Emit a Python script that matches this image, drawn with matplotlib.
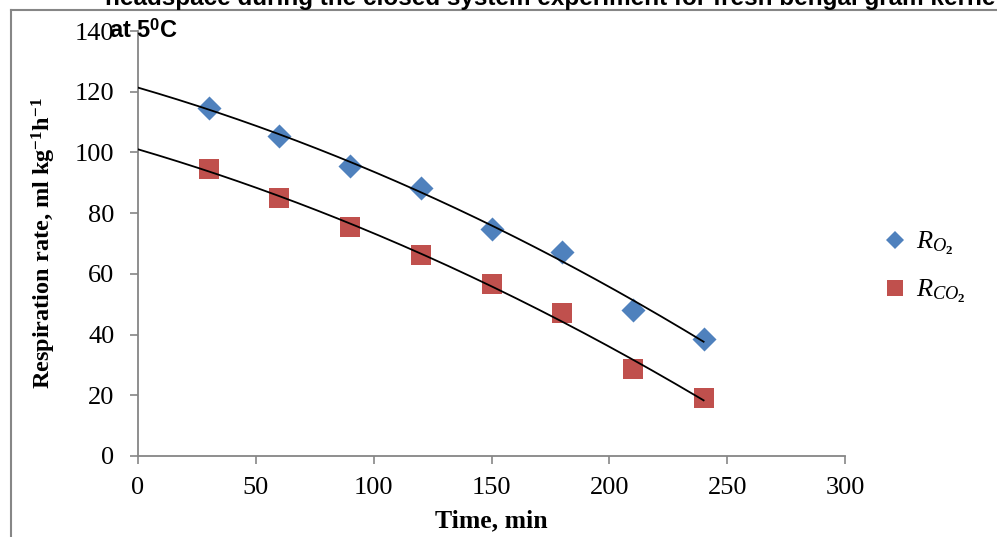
import numpy as np
import matplotlib
matplotlib.use("Agg")
import matplotlib.pyplot as plt
from matplotlib.lines import Line2D

time_min = [30, 60, 90, 120, 150, 180, 210, 240]
r_o2 = [114.8, 105.3, 95.6, 88.3, 74.9, 67.3, 48.1, 38.6]
r_co2 = [94.5, 85.1, 75.5, 66.2, 56.7, 47.1, 28.6, 19.1]
xticks = [0, 50, 100, 150, 200, 250, 300]
yticks = [0, 20, 40, 60, 80, 100, 120, 140]

blue = "#4F81BD"
red = "#C0504D"
gray = "#868686"

plt.rcParams["mathtext.fontset"] = "custom"
plt.rcParams["mathtext.rm"] = "Liberation Serif:bold"
plt.rcParams["mathtext.bf"] = "Liberation Serif:bold"
plt.rcParams["mathtext.sf"] = "Liberation Sans:bold"
plt.rcParams["mathtext.it"] = "Liberation Serif:italic"

fig = plt.figure(figsize=(9.97, 5.37), dpi=100)
ax = fig.add_axes([138/997, 1-456/537, (845-138)/997, (456-31)/537])

# frame lines of the embedded picture
fig.add_artist(Line2D([11/997, 11/997], [0, 1-9.5/537], transform=fig.transFigure, color=gray, lw=1.5))
fig.add_artist(Line2D([11/997, 1], [1-9.5/537, 1-9.5/537], transform=fig.transFigure, color=gray, lw=1.5))

# trend lines (2nd-order polynomial fits)
xx = np.linspace(0, 240, 200)
p1 = np.polyfit(time_min, r_o2, 2)
p2 = np.polyfit(time_min, r_co2, 2)
ax.plot(xx, np.polyval(p1, xx), color="black", lw=1.3, zorder=3)
ax.plot(xx, np.polyval(p2, xx), color="black", lw=1.3, zorder=3)

ax.scatter(time_min, r_o2, marker="D", s=150, color=blue, zorder=2, linewidths=0)
ax.scatter(time_min, r_co2, marker="s", s=190, color=red, zorder=2, linewidths=0)

ax.set_xlim(0, 300)
ax.set_ylim(0, 140)
ax.set_xticks(xticks)
ax.set_yticks(yticks)
for s in ["top", "right"]:
    ax.spines[s].set_visible(False)
for s in ["left", "bottom"]:
    ax.spines[s].set_color(gray)
    ax.spines[s].set_linewidth(1.3)
ax.tick_params(direction="out", length=6, width=1.2, color=gray, labelsize=19)
ax.tick_params(axis="y", pad=11)
ax.tick_params(axis="x", pad=9)
for lab in ax.get_xticklabels() + ax.get_yticklabels():
    lab.set_fontfamily("Liberation Serif")

ax.set_xlabel("Time, min", fontfamily="Liberation Serif", fontweight="bold", fontsize=18.5, va="top")
ax.xaxis.set_label_coords(0.5, -0.125)
ax.set_ylabel("Respiration rate, ml kg$^{-1}$h$^{-1}$", fontfamily="Liberation Serif",
              fontweight="bold", fontsize=17.5, va="center", ha="center")
ax.yaxis.set_label_coords(-0.133, 0.5)

# title (partially cut off at top)
fig.text(105/997, 1-5/537, "headspace during the closed system experiment for fresh bengal gram kernels",
         fontfamily="Liberation Sans", fontweight="bold", fontsize=17.5, ha="left", va="baseline")
fig.text(109/997, 1-38/537, "at 5$^{\\mathsf{0}}$C", fontfamily="Liberation Sans", fontweight="bold",
         fontsize=17, ha="left", va="baseline")

# legend
handles = [Line2D([], [], marker="D", color=blue, ls="none", markersize=9, markeredgewidth=0),
           Line2D([], [], marker="s", color=red, ls="none", markersize=11.5, markeredgewidth=0)]
leg = fig.legend(handles, ["$R_{O_2}$", "$R_{CO_2}$"], loc="center left",
                 bbox_to_anchor=(858/997, 1-267/537), frameon=False, fontsize=19,
                 handletextpad=0.3, labelspacing=0.75, handlelength=1.0)

fig.savefig("out.png", dpi=100)
